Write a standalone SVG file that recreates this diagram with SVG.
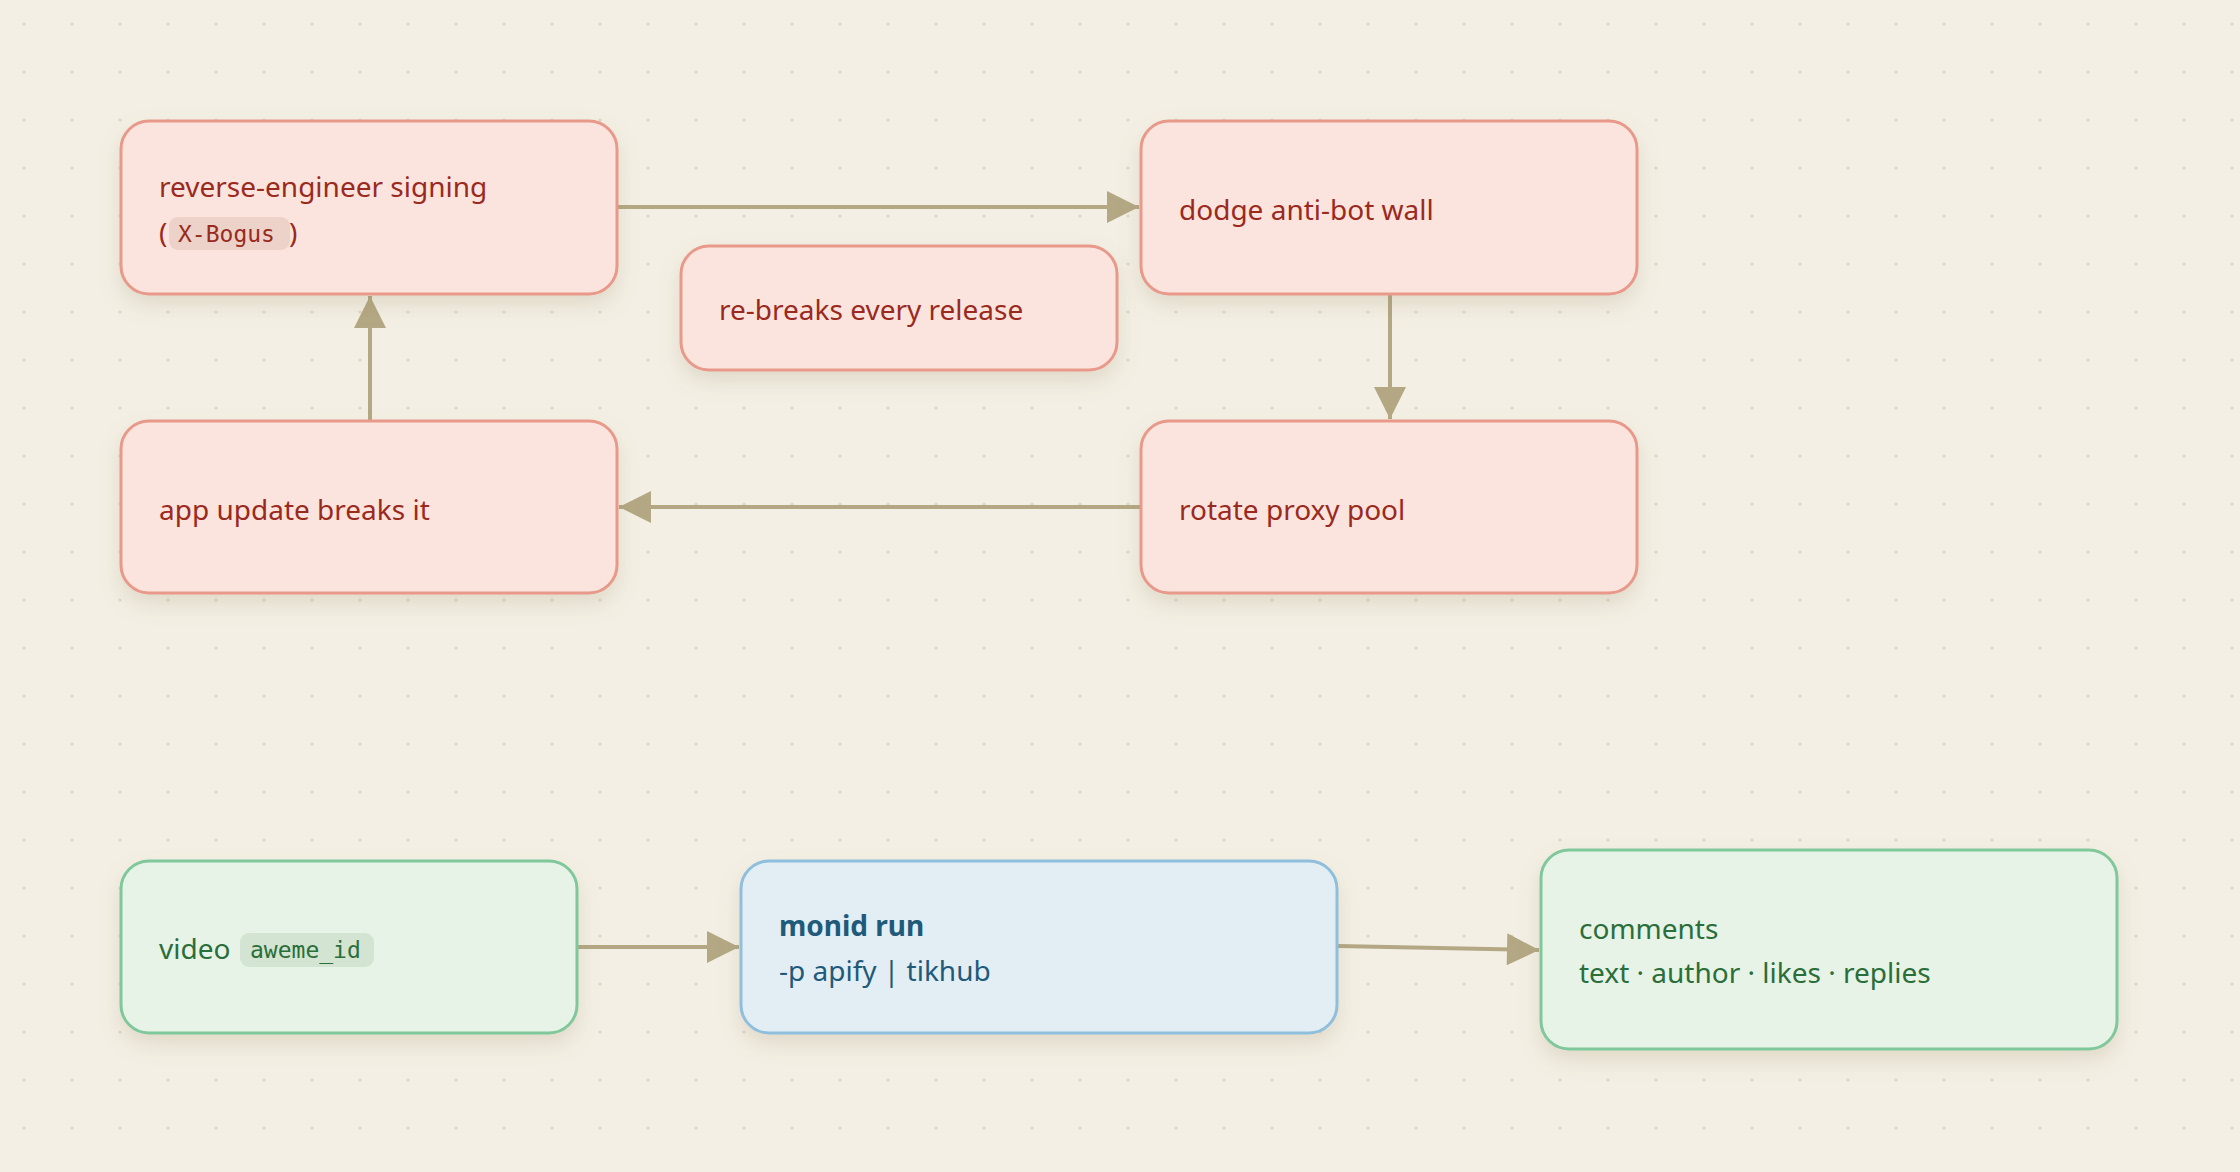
<svg xmlns="http://www.w3.org/2000/svg" width="2240" height="1172" viewBox="0 0 2240 1172">
<defs>
<pattern id="dots" width="48" height="48" patternUnits="userSpaceOnUse"><circle cx="24" cy="24" r="1.6" fill="#ddd6c4"/></pattern>
<filter id="sh" x="-10%" y="-10%" width="120%" height="140%"><feDropShadow dx="0" dy="10" stdDeviation="10" flood-color="#8a7a50" flood-opacity="0.18"/></filter>
<marker id="ah" viewBox="0 0 10 10" refX="10" refY="5" markerWidth="9" markerHeight="9" markerUnits="userSpaceOnUse" orient="auto"><path d="M0,0 L10,5 L0,10 z" fill="#b3a883"/></marker>
<marker id="a" viewBox="0 0 10 10" refX="10" refY="5" markerWidth="9" markerHeight="8" orient="auto"><path d="M0,0 L10,5 L0,10 z" fill="#b3a883"/></marker>
</defs>
<style>
.r rect.b{fill:#fbe4dd;stroke:#e8998a;stroke-width:3}
.g rect.b{fill:#e7f3e7;stroke:#80c89b;stroke-width:3}
.u rect.b{fill:#e2eef4;stroke:#8fbfdc;stroke-width:3}
text{font-family:"Noto Sans","Open Sans",sans-serif;font-size:28px}
.r text{fill:#9a2a1e}.g text{fill:#2a6e3a}.u text{fill:#1f5a7a}
.m{font-family:"DejaVu Sans Mono","Liberation Mono",monospace;font-size:23px}
.e{fill:none;stroke:#b3a883;stroke-width:4;marker-end:url(#a)}
</style>
<rect width="2240" height="1172" fill="#f3efe4"/>
<rect width="2240" height="1172" fill="url(#dots)"/>
<g id="edges">
<path class="e" d="M617,207 L1139,207"/>
<path class="e" d="M1390,294 L1390,419"/>
<path class="e" d="M1141,507 L619,507"/>
<path class="e" d="M370,421 L370,296"/>
<path class="e" d="M577,947 L739,947"/>
<path class="e" d="M1338,946 L1539,950"/>
</g>
<g id="n1" class="r"><rect class="b" x="121" y="121" width="496" height="173" rx="28" filter="url(#sh)"/>
<text x="159" y="197">reverse-engineer signing</text>
<rect x="169" y="217" width="121" height="33" rx="9" fill="#ecd2c8"/>
<text x="159" y="243">(</text><text class="m" x="178" y="242">X-Bogus</text><text x="289" y="243">)</text></g>
<g id="n2" class="r"><rect class="b" x="1141" y="121" width="496" height="173" rx="28" filter="url(#sh)"/>
<text x="1179" y="220">dodge anti-bot wall</text></g>
<g id="n3" class="r"><rect class="b" x="681" y="246" width="436" height="124" rx="28" filter="url(#sh)"/>
<text x="719" y="320">re-breaks every release</text></g>
<g id="n4" class="r"><rect class="b" x="121" y="421" width="496" height="172" rx="28" filter="url(#sh)"/>
<text x="159" y="520">app update breaks it</text></g>
<g id="n5" class="r"><rect class="b" x="1141" y="421" width="496" height="172" rx="28" filter="url(#sh)"/>
<text x="1179" y="520">rotate proxy pool</text></g>
<g id="n6" class="g"><rect class="b" x="121" y="861" width="456" height="172" rx="28" filter="url(#sh)"/>
<text x="159" y="959">video</text>
<rect x="240" y="933" width="134" height="34" rx="9" fill="#d3e4d2"/>
<text class="m" x="250" y="958">aweme_id</text></g>
<g id="n7" class="u"><rect class="b" x="741" y="861" width="596" height="172" rx="28" filter="url(#sh)"/>
<text x="779" y="936" font-weight="bold">monid run</text>
<text x="779" y="981">-p apify | tikhub</text></g>
<g id="n8" class="g"><rect class="b" x="1541" y="850" width="576" height="199" rx="28" filter="url(#sh)"/>
<text x="1579" y="939">comments</text>
<text x="1579" y="983">text · author · likes · replies</text></g>
</svg>
